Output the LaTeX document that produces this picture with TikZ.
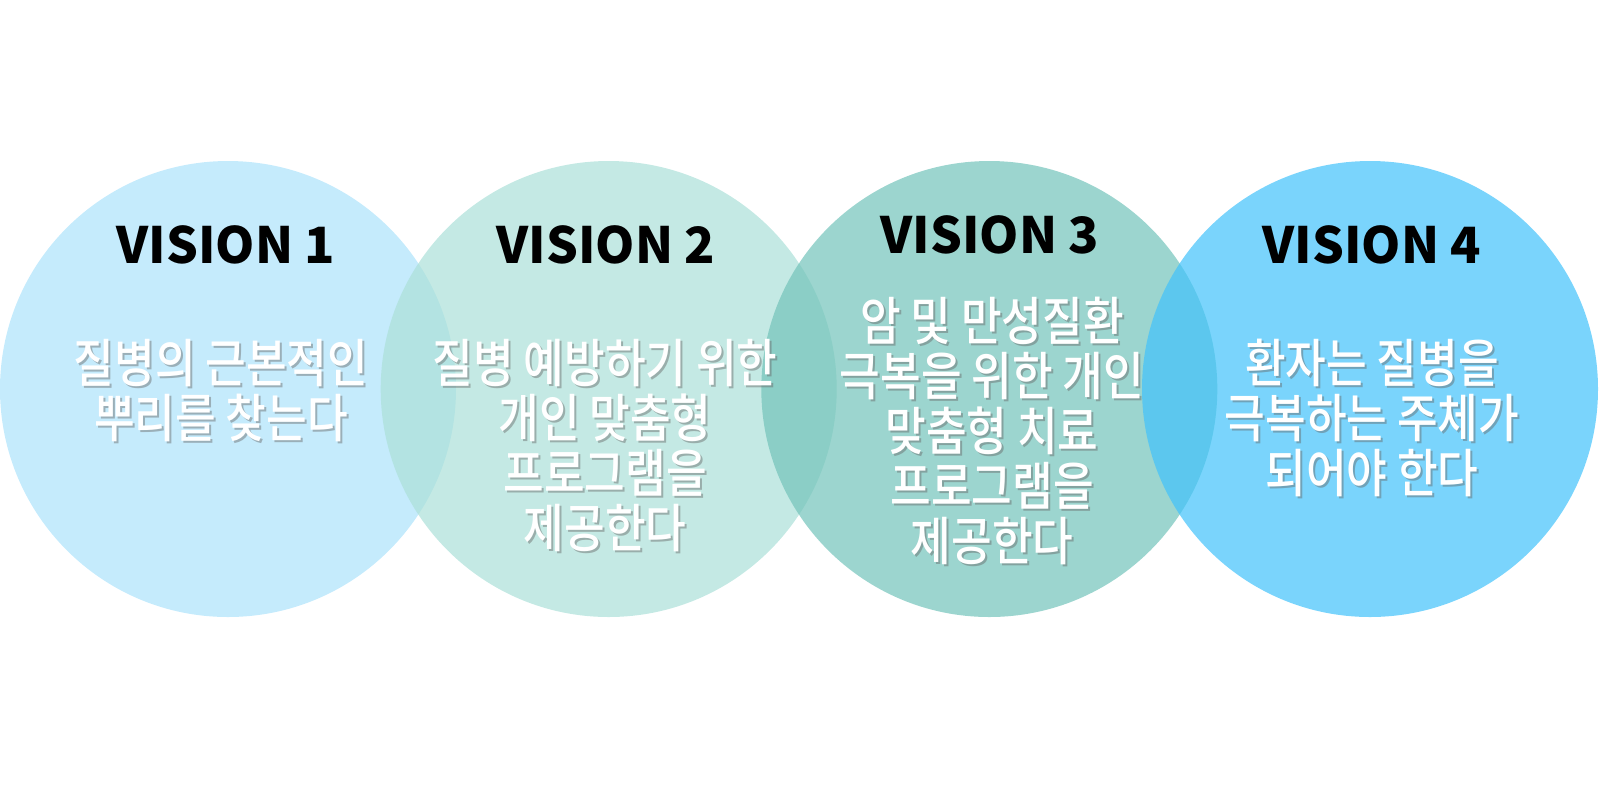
\documentclass[tikz,border=0pt]{standalone}
\usepackage{fontspec}
\newfontfamily\bodyfont{Noto Sans CJK KR Medium}
\newfontfamily\titlefont{Noto Sans CJK KR Black}

\definecolor{visA}{RGB}{172,226,251}
\definecolor{visB}{RGB}{171,224,216}
\definecolor{visC}{RGB}{114,195,186}
\definecolor{visD}{RGB}{65,194,251}

\tikzset{
  circ/.style={draw=none, fill opacity=0.7},
  vtitle/.style={inner sep=0.75pt, text=black, font=\titlefont\fontsize{25}{25}\selectfont},
  vbody/.style={anchor=north, align=center, inner sep=0.75pt, text=white, xscale=0.85, yscale=-1, transform shape, font=\bodyfont\fontsize{26}{27.5}\selectfont},
  vshade/.style={vbody, text=black!60, text opacity=0.45}
}

\begin{document}
\begin{tikzpicture}[x=0.5pt,y=0.5pt,yscale=-1,xscale=1]
\useasboundingbox (0,0) rectangle (1600,800);

%Shape: Circle
\fill [circ, fill=visA] (228,389) circle (228);
%Shape: Circle
\fill [circ, fill=visB] (608.7,389) circle (228);
%Shape: Circle
\fill [circ, fill=visC] (989.3,389) circle (228);
%Shape: Circle
\fill [circ, fill=visD] (1370,389) circle (228);

% Text Node
\node (title1) at (226,245) [vtitle] {VISION 1};
% Text Node
\node (title2) at (606,245) [vtitle] {VISION 2};
% Text Node
\node (title3) at (990,235) [vtitle] {VISION 3};
% Text Node
\node (title4) at (1372,245) [vtitle] {VISION 4};

% Text Node
\node (shade1) at (223,339) [vshade] {질병의 근본적인\\뿌리를 찾는다};
\node (body1) at (221,337) [vbody] {질병의 근본적인\\뿌리를 찾는다};
% Text Node
\node (shade2) at (607,339) [vshade] {질병 예방하기 위한\\개인 맞춤형\\프로그램을\\제공한다};
\node (body2) at (605,337) [vbody] {질병 예방하기 위한\\개인 맞춤형\\프로그램을\\제공한다};
% Text Node
\node (shade3) at (994,297) [vshade] {암 및 만성질환\\극복을 위한 개인\\맞춤형 치료\\프로그램을\\제공한다};
\node (body3) at (992,295) [vbody] {암 및 만성질환\\극복을 위한 개인\\맞춤형 치료\\프로그램을\\제공한다};
% Text Node
\node (shade4) at (1374,339) [vshade] {환자는 질병을\\극복하는 주체가\\되어야 한다};
\node (body4) at (1372,337) [vbody] {환자는 질병을\\극복하는 주체가\\되어야 한다};

\end{tikzpicture}
\end{document}
